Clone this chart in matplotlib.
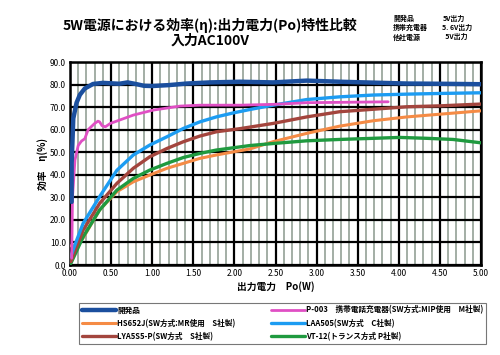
import matplotlib.pyplot as plt
import numpy as np
from matplotlib.ticker import MultipleLocator

plt.rcParams['font.family'] = ['Noto Sans CJK JP', 'DejaVu Sans']

# Data: output power Po (W) vs efficiency (%)
dev_x = [0.02, 0.02, 0.04, 0.08, 0.12, 0.18, 0.28, 0.4, 0.6, 0.7, 0.8, 0.9, 1.0, 1.2, 1.42, 1.7,
         2.07, 2.47, 2.88, 3.28, 3.69, 4.1, 4.5, 5.0]
dev_y = [28, 45, 65, 72, 75.5, 78.3, 80.3, 80.8, 80.4, 81.0, 80.3, 79.5, 79.4, 79.8, 80.5, 81,
         81.3, 81, 81.8, 81.3, 80.9, 80.5, 80.4, 80.2]

p003_x = [0.02, 0.025, 0.03, 0.06, 0.1, 0.14, 0.18, 0.22, 0.3, 0.34, 0.36, 0.39, 0.43, 0.49,
          0.77, 1.01, 1.34, 1.58, 2.07, 2.5, 2.88, 3.4, 3.87]
p003_y = [3, 15, 30, 46.5, 53, 55, 56, 60, 62.8, 63.8, 63.5, 61.8, 61.3, 62.8,
          66.5, 68.7, 70.5, 70.9, 70.9, 71.3, 72, 72.2, 72.4]

hs_x = [0.01, 0.06, 0.16, 0.36, 0.57, 0.77, 0.97, 1.18, 1.38, 1.58, 1.78, 1.99, 2.19, 2.47,
        2.88, 3.28, 3.69, 4.1, 4.5, 5.0]
hs_y = [8.5, 8.5, 12, 24.4, 32.5, 36.9, 39.9, 42.9, 45.1, 47.3, 48.8, 50.2, 51.5, 54.7,
        58.4, 61.6, 64, 65.7, 66.9, 68.4]

laa_x = [0.01, 0.05, 0.16, 0.36, 0.57, 0.77, 0.97, 1.18, 1.38, 1.58, 1.78, 1.99, 2.19, 2.47,
         2.88, 3.28, 3.69, 4.1, 4.5, 5.0]
laa_y = [3.7, 8, 18.5, 30.3, 42, 48.8, 53.2, 56.9, 60.6, 63.5, 65.7, 67.5, 69.0, 70.9,
         73.4, 74.6, 75.4, 75.8, 76.1, 76.4]

lya_x = [0.01, 0.16, 0.36, 0.57, 0.77, 0.97, 1.18, 1.38, 1.58, 1.78, 2.07, 2.47, 2.88, 3.28,
         3.69, 4.1, 4.5, 5.0]
lya_y = [1.5, 15.5, 27.3, 36.2, 42.9, 48, 51.7, 54.7, 57.2, 59.1, 60.5, 62.8, 65.7, 68,
         69.1, 70.2, 70.6, 71.4]

vt_x = [0.01, 0.16, 0.36, 0.57, 0.77, 0.97, 1.18, 1.38, 1.58, 1.78, 2.19, 2.47, 2.88, 3.28,
        3.69, 4.01, 4.34, 4.66, 5.0]
vt_y = [0.7, 12.5, 24.4, 33.2, 38.4, 42.1, 45.1, 47.7, 49.5, 51, 53, 53.9, 55.1, 55.7,
        56.2, 56.6, 56.2, 55.7, 54.2]

labels = ['開発品', 'HS652J(SW方式:MR使用　S社製)', 'LYA5S5-P(SW方式　S社製)',
          'P-003　携帯電話充電器(SW方式:MIP使用　M社製)', 'LAA505(SW方式　C社製)',
          'VT-12(トランス方式 P社製)']

fig = plt.figure(figsize=(5.0, 3.55), dpi=100)
ax = fig.add_axes([0.14, 0.2535, 0.822, 0.5715])

ax.set_xlim(0, 5)
ax.set_ylim(0, 90)
ax.xaxis.set_major_locator(MultipleLocator(0.5))
ax.xaxis.set_minor_locator(MultipleLocator(0.1))
ax.yaxis.set_major_locator(MultipleLocator(10))
ax.xaxis.set_major_formatter(lambda v, p: f'{v:.2f}')
ax.yaxis.set_major_formatter(lambda v, p: f'{v:.1f}')
ax.tick_params(which='both', length=0, labelsize=6, pad=3)

# grid: thin grey every 0.1 W, black every 0.5 W and every 10 %
ax.grid(True, which='minor', axis='x', color='#8a998d', linewidth=1.1, linestyle='-')
ax.grid(True, which='major', axis='both', color='#000000', linewidth=1.6, linestyle='-')

lh = ax.plot(hs_x, hs_y, color='#f58b45', lw=2.2, solid_capstyle='round', zorder=3)[0]
lv = ax.plot(vt_x, vt_y, color='#1f9a3f', lw=2.4, solid_capstyle='round', zorder=3)[0]
lb = ax.plot(lya_x, lya_y, color='#a3453d', lw=2.4, solid_capstyle='round', zorder=3)[0]
ll = ax.plot(laa_x, laa_y, color='#1c9cf2', lw=2.4, solid_capstyle='round', zorder=3)[0]
lp = ax.plot(p003_x, p003_y, color='#e04fc4', lw=2.0, solid_capstyle='round', zorder=3)[0]
ld = ax.plot(dev_x, dev_y, color='#1b4f9e', lw=3.2, solid_capstyle='round', zorder=3)[0]

for s in ax.spines.values():
    s.set_linewidth(1.8)

ax.set_xlabel('出力電力　Po(W)', fontsize=7, fontweight='bold', labelpad=2)
ax.set_ylabel('効率　η(%)', fontsize=7, fontweight='bold', labelpad=1)

fig.text(0.42, 0.928, '5W電源における効率(η):出力電力(Po)特性比較', ha='center', va='center',
         fontsize=10, fontweight='bold')
fig.text(0.42, 0.885, '入力AC100V', ha='center', va='center', fontsize=10, fontweight='bold')

specs = [('開発品', '5V出力'), ('携帯充電器', '5. 6V出力'), ('他社電源', '  5V出力')]
for i, (a, b) in enumerate(specs):
    fig.text(0.786, 0.948 - i * 0.026, a, fontsize=5, fontweight='bold', va='center')
    fig.text(0.885, 0.948 - i * 0.026, b, fontsize=5, fontweight='bold', va='center')

leg = fig.legend([ld, lh, lb, lp, ll, lv], labels, ncol=2, loc='lower left',
                 bbox_to_anchor=(0.15, 0.02, 0.83, 0.13), mode='expand',
                 fontsize=5.5, frameon=True, fancybox=False, handlelength=4.5,
                 handletextpad=0.1, labelspacing=0.55, borderpad=0.4, columnspacing=1.0)
leg.get_frame().set_edgecolor('#555555')
leg.get_frame().set_linewidth(0.8)
for t in leg.get_texts():
    t.set_fontweight('bold')

fig.savefig('out.png', dpi=100)
